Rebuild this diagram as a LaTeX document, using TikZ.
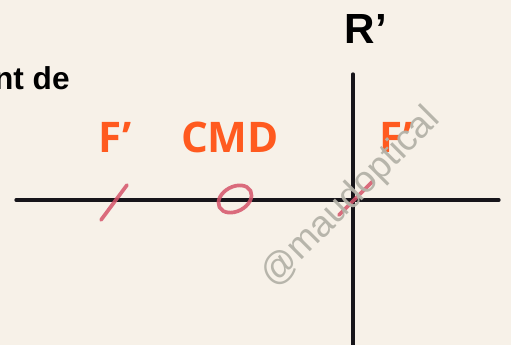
\documentclass[tikz,border=0pt]{standalone}
\usepackage{fontspec}
\setmainfont{Liberation Sans}
\newfontfamily\labelfont{Open Sans}
\usepackage{tikz}
\usetikzlibrary{shapes.geometric}
\definecolor{paper}{HTML}{F7F1E8}
\definecolor{axisink}{HTML}{17151A}
\definecolor{labelred}{HTML}{FF5A1F}
\definecolor{markred}{HTML}{D6546A}
\definecolor{wmgray}{HTML}{B4B2A8}
\tikzset{
  axisline/.style={axisink, line width=1.9pt, line cap=round},
  markline/.style={markred, line width=2.1pt, line cap=round, opacity=0.85},
  redlabel/.style={font=\labelfont\fontsize{24}{24}\selectfont\bfseries, text=labelred, inner sep=0pt},
  blacklabel/.style={font=\bfseries, text=black, inner sep=0pt}
}
\begin{document}
\begin{tikzpicture}[x=0.02cm, y=-0.02cm]
\useasboundingbox (0,0) rectangle (511,345);
\clip (0,0) rectangle (511,345);
\fill[paper] (0,0) rectangle (511,345);
% axes
\coordinate (hl) at (16,200);
\coordinate (hr) at (499,200);
\coordinate (vt) at (353,74);
\coordinate (vb) at (353,345);
\draw[axisline] (hl) -- (hr);
\draw[axisline] (vt) -- (vb);
% marks on the horizontal axis
\coordinate (ma) at (101,220);
\coordinate (mb) at (127,185);
\coordinate (mc) at (339,215);
\coordinate (md) at (373,181);
\draw[markline] (ma) -- (mb);
\draw[markline] (mc) -- (md);
\node[draw=markred, line width=2.1pt, opacity=0.85, ellipse, minimum width=20pt, minimum height=14pt, inner sep=0pt, rotate=28] (cmdmark) at (235,199) {};
% labels
\node[blacklabel, font=\bfseries\fontsize{18}{18}\selectfont, anchor=base east] (cut) at (70,89) {nt de};
\node[blacklabel, font=\bfseries\fontsize{24}{24}\selectfont, anchor=base] (rp) at (366,43) {R’};
\node[redlabel, anchor=base] (fa) at (115,152) {F’};
\node[redlabel, anchor=base] (cmd) at (230,152) {CMD};
\node[redlabel, anchor=base] (fb) at (396,152) {F’};
% watermark
\node[font=\fontsize{21}{21}\selectfont, text=wmgray, rotate=45, inner sep=0pt, text opacity=0.95] (wm) at (351,198) {@maudoptical};
\end{tikzpicture}
\end{document}
